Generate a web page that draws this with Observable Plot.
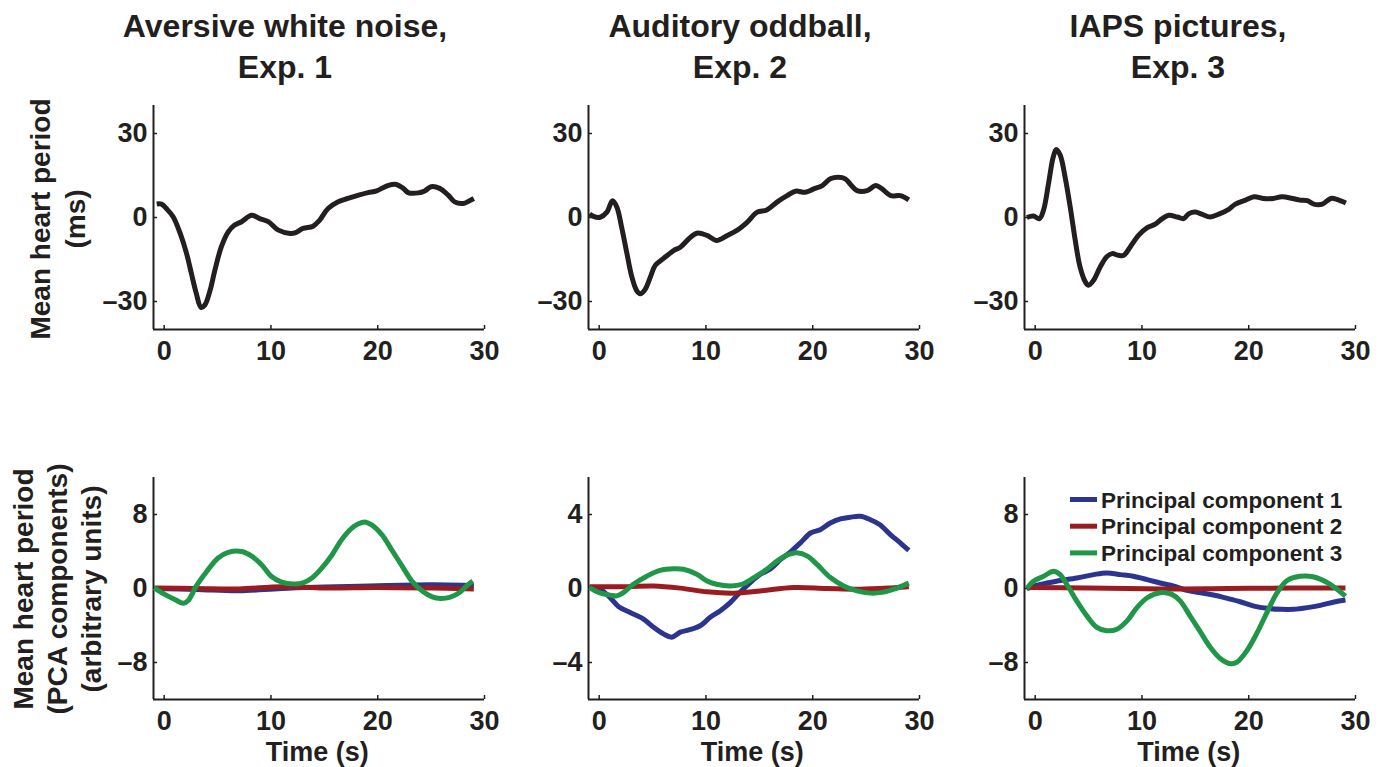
<!DOCTYPE html>
<html><head><meta charset="utf-8">
<script src="https://cdn.jsdelivr.net/npm/d3@7"></script>
<script src="https://cdn.jsdelivr.net/npm/@observablehq/plot@0.6"></script>
<style>
body{margin:0;background:#fff;}
#root{position:relative;width:1390px;height:767px;overflow:hidden;background:#fff;font-family:"Liberation Sans",Arial,Helvetica,sans-serif;}
#root svg{position:absolute;}
</style></head><body><div id="root"></div>
<script>
// ---------- text ----------
const panelTitles = [["Aversive white noise,", "Exp. 1"], ["Auditory oddball,", "Exp. 2"], ["IAPS pictures,", "Exp. 3"]];
const topYLabel = ["Mean heart period", "(ms)"];
const bottomYLabel = ["Mean heart period", "(PCA components)", "(arbitrary units)"];
const xLabel = "Time (s)";
const legendLabels = ["Principal component 1", "Principal component 2", "Principal component 3"];

// ---------- ticks ----------
const xDomain = [-1, 30];
const xTicks = [0, 10, 20, 30];
const topYDomain = [-40, 40];
const topYTicks = [-30, 0, 30];
const pcaYDomains = [[-12, 12], [-6, 6], [-12, 12]];
const pcaYTicks = [[-8, 0, 8], [-4, 0, 4], [-8, 0, 8]];

// ---------- top row: mean heart period (ms), [time s, value] ----------
const aversiveHeart = [[-0.7,4.8],[-0.25,4.8],[0.2,3.2],[0.85,0.2],[1.5,-5.7],[2.1,-12.9],[2.55,-20],[3.0,-27],[3.45,-32.1],[3.8,-31.3],[4.3,-26],[4.75,-18.8],[5.35,-10.5],[6.0,-5.1],[6.6,-2.7],[7.25,-1.5],[8.2,0.8],[8.95,-0.4],[9.75,-1.5],[10.7,-4.5],[11.8,-5.7],[12.25,-5.5],[13.0,-3.9],[13.95,-3.1],[14.55,-1],[15.35,3.2],[16.3,5.6],[17.2,6.8],[18.2,8.0],[19.1,8.9],[19.9,9.5],[21.0,11.5],[21.75,11.8],[22.4,10.4],[22.85,8.9],[23.8,8.8],[24.4,9.5],[25.0,11.0],[25.8,10.4],[26.6,8.0],[27.2,5.6],[28.0,5.0],[28.6,6.0],[29.0,6.8]];
const oddballHeart = [[-0.9,1.3],[-0.53,0.4],[0.1,0.1],[0.72,1.9],[1.25,6.0],[1.66,3.7],[2.1,-3.4],[2.6,-12.9],[3.06,-21.2],[3.5,-26],[3.84,-27.2],[4.3,-25.7],[4.8,-21.2],[5.25,-17.1],[6.0,-14.7],[7.0,-11.7],[7.6,-10.6],[8.4,-7.6],[9.15,-5.6],[10.1,-6.4],[11.0,-8.2],[12.0,-6.4],[12.9,-4.6],[13.85,-1.7],[14.8,1.9],[15.7,2.7],[16.65,5.5],[17.6,7.8],[18.4,9.4],[19.3,9.0],[20.1,10.2],[20.9,11.4],[21.65,13.8],[22.4,14.4],[23.05,13.8],[23.5,12.0],[24.15,9.6],[25.1,9.6],[25.9,11.4],[26.5,10.2],[27.3,7.8],[28.2,7.8],[29.0,6.3]];
const iapsHeart = [[-0.78,0],[-0.16,0.5],[0.4,-0.4],[0.78,2.6],[1.25,12.1],[1.66,21.1],[1.97,24.3],[2.34,22.3],[2.8,14.5],[3.28,3.8],[3.75,-8.1],[4.2,-17.6],[4.7,-23],[5.0,-24.2],[5.47,-22.4],[6.1,-17.6],[6.7,-14.0],[7.2,-12.9],[7.8,-13.5],[8.3,-13.5],[8.9,-10.5],[9.7,-6.3],[10.5,-3.6],[11.25,-2.4],[11.9,-0.4],[12.5,0.8],[13.3,0.2],[13.9,-0.4],[14.4,1.4],[15.0,2.0],[15.6,1.2],[16.4,0.2],[17.2,1.2],[18.0,2.6],[18.75,4.8],[19.7,6.2],[20.5,7.4],[21.4,6.8],[22.3,6.8],[23.1,7.4],[24.1,6.8],[24.8,6.2],[25.5,6.0],[26.1,4.8],[26.9,4.8],[27.7,6.8],[28.3,6.4],[29.1,5.2]];

// ---------- bottom row: PCA components, [time s, value] ----------
const aversivePC1 = [[-0.9,0],[3,-0.1],[7,-0.25],[11,0],[15,0.15],[20,0.3],[25,0.4],[28,0.35],[29,0.3]];
const aversivePC2 = [[-0.9,0.05],[3,0],[7,-0.05],[11,0.2],[15,0.05],[20,0.1],[25,0.05],[29,-0.05]];
const aversivePC3 = [[-0.94,0.07],[0.06,-0.64],[1.0,-1.2],[1.8,-1.6],[2.25,-1.3],[3.0,0.25],[4.0,1.86],[5.05,3.3],[6.0,3.9],[7.25,4.0],[8.2,3.5],[9.1,2.6],[10.05,1.3],[11.0,0.7],[12.1,0.5],[13.0,0.6],[13.8,1.1],[14.75,2.2],[15.7,3.6],[16.6,5.25],[17.55,6.5],[18.2,7.0],[18.8,7.2],[19.4,6.9],[20.4,5.8],[21.3,4.2],[22.3,2.4],[23.2,0.8],[24.2,-0.3],[25.1,-0.9],[25.9,-1.07],[26.8,-0.93],[27.7,-0.4],[28.3,0.25],[28.9,0.8]];
const oddballPC1 = [[-0.9,0.05],[0.1,-0.04],[1.03,-0.5],[1.8,-0.97],[2.9,-1.3],[4.15,-1.65],[5.1,-2.1],[6.0,-2.45],[6.8,-2.63],[7.6,-2.36],[8.4,-2.24],[9.5,-2.0],[10.4,-1.56],[11.35,-1.2],[12.3,-0.75],[13.2,-0.2],[14.15,0.32],[15.1,0.77],[16.0,1.04],[17.0,1.57],[17.9,1.97],[18.85,2.47],[19.8,3.0],[20.7,3.18],[21.65,3.54],[22.6,3.76],[23.5,3.85],[24.45,3.9],[25.4,3.72],[26.3,3.45],[27.3,2.9],[28.2,2.47],[29.0,2.06]];
const oddballPC2 = [[-0.9,0.1],[2.6,0.1],[5.1,0.14],[7.6,0.02],[10.1,-0.18],[12.6,-0.25],[15.1,-0.13],[18.2,0.05],[21.3,0],[24.45,-0.04],[27.6,0.04],[29.0,0.09]];
const oddballPC3 = [[-0.9,0.05],[-0.06,-0.21],[1.03,-0.36],[1.66,-0.4],[2.3,-0.21],[3.2,0.23],[4.5,0.68],[5.7,0.98],[7.0,1.07],[7.9,1.04],[9.15,0.77],[10.1,0.41],[11.0,0.23],[12.3,0.14],[13.4,0.23],[14.5,0.59],[15.7,1.04],[16.65,1.48],[17.75,1.84],[18.5,1.93],[19.5,1.75],[20.4,1.3],[21.65,0.59],[22.9,0.14],[24.15,-0.13],[25.4,-0.25],[26.5,-0.21],[27.6,-0.04],[29.0,0.29]];
const iapsPC1 = [[-0.78,0],[0.47,0.43],[2.0,0.79],[3.9,1.14],[5.47,1.5],[6.7,1.68],[8.0,1.5],[9.2,1.32],[10.5,0.96],[11.7,0.6],[13.0,0.25],[14.2,-0.21],[15.5,-0.46],[16.7,-0.71],[18.0,-1.07],[19.2,-1.43],[20.5,-1.9],[21.7,-2.14],[23.0,-2.25],[24.2,-2.25],[25.5,-2.07],[26.7,-1.82],[28.0,-1.46],[29.06,-1.25]];
const iapsPC2 = [[-0.78,0.1],[5,0.05],[12,-0.05],[18,0],[24,0.05],[29.06,0.05]];
const iapsPC3 = [[-0.78,0],[-0.16,0.79],[0.78,1.32],[1.72,1.86],[2.34,1.5],[2.97,0.43],[3.9,-1.36],[4.84,-2.96],[5.78,-4.2],[6.7,-4.57],[7.66,-4.4],[8.6,-3.5],[9.53,-2.07],[10.5,-1.0],[11.7,-0.46],[12.8,-0.64],[13.6,-1.36],[14.5,-2.96],[15.5,-4.75],[16.4,-6.36],[17.3,-7.54],[18.3,-8.14],[18.9,-7.96],[19.84,-6.7],[20.8,-4.75],[21.7,-2.6],[22.65,-0.46],[23.6,0.86],[24.8,1.32],[26.1,1.25],[27.3,0.68],[28.3,-0.1],[29.06,-0.82]];

// ---------- styling ----------
const ink = "#231f20";
const pcColors = ["#2b3590", "#9a1c20", "#1f9648"];
const FONT = "'Liberation Sans', Arial, Helvetica, sans-serif";
const frameLefts = [152.7, 587.7, 1024.3];
const frameW = 331;
const topFrame = {top: 105, h: 224};
const botFrame = {top: 477.3, h: 222};

const fmt = d => d < 0 ? "\u2013" + Math.abs(d) : String(d);
const root = document.getElementById("root");

function panel(left, frame, yDomain, yTicks, series) {
  const mL = 70, mR = 40, mT = 10, mB = 50;
  const marks = [
    Plot.axisX({ticks: xTicks, tickSize: -4, tickPadding: 15.5, tickFormat: fmt, label: null, fontSize: 27, fontWeight: "bold", stroke: ink, fill: ink, strokeWidth: 1.5}),
    Plot.axisY({ticks: yTicks, tickSize: -4, tickPadding: 10, tickFormat: fmt, label: null, fontSize: 27, fontWeight: "bold", stroke: ink, fill: ink, strokeWidth: 1.5}),
    Plot.ruleY([yDomain[0]], {stroke: ink, strokeWidth: 2}),
    Plot.ruleX([xDomain[0]], {stroke: ink, strokeWidth: 2})
  ];
  for (const s of series) {
    marks.push(Plot.line(s.data.map(([t, v]) => ({t, v})), {x: "t", y: "v", stroke: s.color, strokeWidth: 5, curve: "catmull-rom", strokeLinejoin: "round", strokeLinecap: "butt"}));
  }
  const chart = Plot.plot({
    width: frameW + mL + mR, height: frame.h + mT + mB,
    marginLeft: mL, marginRight: mR, marginTop: mT, marginBottom: mB,
    x: {domain: xDomain},
    y: {domain: yDomain},
    style: {fontFamily: FONT, color: ink, background: "transparent", overflow: "visible"},
    marks
  });
  chart.style.left = (left - mL) + "px";
  chart.style.top = (frame.top - mT) + "px";
  root.appendChild(chart);
}

const heartSeries = [aversiveHeart, oddballHeart, iapsHeart];
const pcaSeries = [[aversivePC1, aversivePC2, aversivePC3], [oddballPC1, oddballPC2, oddballPC3], [iapsPC1, iapsPC2, iapsPC3]];
for (let i = 0; i < 3; i++) {
  panel(frameLefts[i], topFrame, topYDomain, topYTicks, [{data: heartSeries[i], color: ink}]);
  panel(frameLefts[i], botFrame, pcaYDomains[i], pcaYTicks[i], pcaSeries[i].map((d, j) => ({data: d, color: pcColors[j]})));
}

// ---------- overlay text: titles, axis labels, legend ----------
const svg = d3.select(root).append("svg").attr("width", 1390).attr("height", 767)
  .style("left", "0px").style("top", "0px").style("pointer-events", "none")
  .attr("font-family", FONT).attr("font-weight", "bold").attr("fill", ink);
const titleCenters = [285, 740, 1178];
panelTitles.forEach((lines, i) => {
  lines.forEach((ln, k) => svg.append("text").attr("x", titleCenters[i]).attr("y", 37 + k * 41)
    .attr("text-anchor", "middle").attr("font-size", 32).text(ln));
});
topYLabel.forEach((ln, k) => svg.append("text").attr("transform", `translate(${49.5 + k * 35.5},219) rotate(-90)`)
  .attr("text-anchor", "middle").attr("font-size", 28).text(ln));
bottomYLabel.forEach((ln, k) => svg.append("text").attr("transform", `translate(${33 + k * 34},589) rotate(-90)`)
  .attr("text-anchor", "middle").attr("font-size", 28).text(ln));
frameLefts.forEach(l => svg.append("text").attr("x", l + frameW / 2 - 1).attr("y", 761)
  .attr("text-anchor", "middle").attr("font-size", 27).text(xLabel));
legendLabels.forEach((lab, j) => {
  const y = 499.5 + j * 26.7;
  svg.append("line").attr("x1", 1070).attr("x2", 1097).attr("y1", y).attr("y2", y)
    .attr("stroke", pcColors[j]).attr("stroke-width", 5);
  svg.append("text").attr("x", 1101).attr("y", y).attr("dy", "0.36em")
    .attr("font-size", 22.5).text(lab);
});
</script></body></html>
